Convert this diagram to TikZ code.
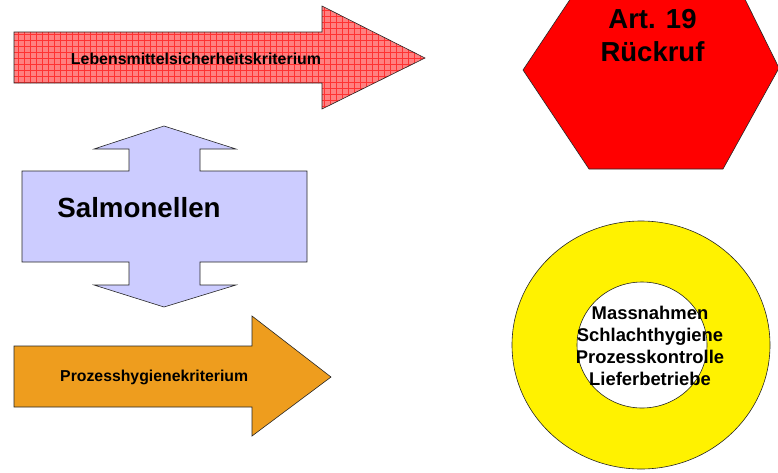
\documentclass[tikz,border=0pt]{standalone}
\usepackage{fontspec}
\setmainfont{Liberation Sans}
\usetikzlibrary{patterns.meta}
\definecolor{lav}{RGB}{204,204,255}
\definecolor{orng}{RGB}{238,157,30}
\definecolor{pinkbase}{RGB}{255,128,128}
\definecolor{gridred}{RGB}{255,50,50}
\tikzset{
  shapeline/.style={draw=black!85, line width=0.6pt, line join=miter},
  lbl/.style={inner sep=0pt, font=\bfseries},
}
\begin{document}
\begin{tikzpicture}[x=1pt,y=-1pt]
\useasboundingbox (0,0) rectangle (778,472);
\begin{scope}
\clip (0,0) rectangle (778,472);
% top patterned arrow
\path[fill=pinkbase] (14,32) -- (322,32) -- (322,6) -- (425,58) -- (322,109) -- (322,83) -- (14,83) -- cycle;
\path[pattern={Hatch[angle=0,distance=6pt,line width=0.9pt]}, pattern color=gridred] (14,32) -- (322,32) -- (322,6) -- (425,58) -- (322,109) -- (322,83) -- (14,83) -- cycle;
\draw[shapeline] (14,32) -- (322,32) -- (322,6) -- (425,58) -- (322,109) -- (322,83) -- (14,83) -- cycle;
% double arrow
\draw[shapeline, fill=lav] (164,126) -- (236,149) -- (200,149) -- (200,171) -- (307,171) -- (307,262) -- (200,262) -- (200,285) -- (236,285) -- (164,307) -- (94,285) -- (129,285) -- (129,262) -- (22,262) -- (22,171) -- (129,171) -- (129,149) -- (94,149) -- cycle;
% bottom orange arrow
\draw[shapeline, fill=orng] (14,346) -- (252,346) -- (252,316) -- (331,377) -- (252,436) -- (252,407) -- (14,407) -- cycle;
% hexagon
\draw[shapeline, fill=red] (523,70) -- (589,169) -- (723,169) -- (779,68) -- (731,-29) -- (589,-29) -- cycle;
% annulus
\draw[shapeline, fill=yellow, even odd rule] (641,345) ellipse [x radius=129, y radius=124] (642,345) ellipse [x radius=65, y radius=63];
\end{scope}
% labels
\node[lbl, anchor=base, font=\bfseries\fontsize{15.9}{18}\selectfont] (lsk) at (196,64) {Lebensmittelsicherheitskriterium};
\node[lbl, anchor=base, font=\bfseries\fontsize{27.7}{33}\selectfont] (sal) at (139,217.7) {Salmonellen};
\node[lbl, anchor=base, font=\bfseries\fontsize{15.8}{18}\selectfont] (phk) at (154.2,381.7) {Prozesshygienekriterium};
\node[lbl, align=center, font=\bfseries\fontsize{27.5}{33}\selectfont] (art) at (652.5,35.7) {Art. 19\\Rückruf};
\node[lbl, align=center, font=\bfseries\fontsize{18.4}{22}\selectfont] (mas) at (650,346.4) {Massnahmen\\Schlachthygiene\\Prozesskontrolle\\Lieferbetriebe};
\end{tikzpicture}
\end{document}
